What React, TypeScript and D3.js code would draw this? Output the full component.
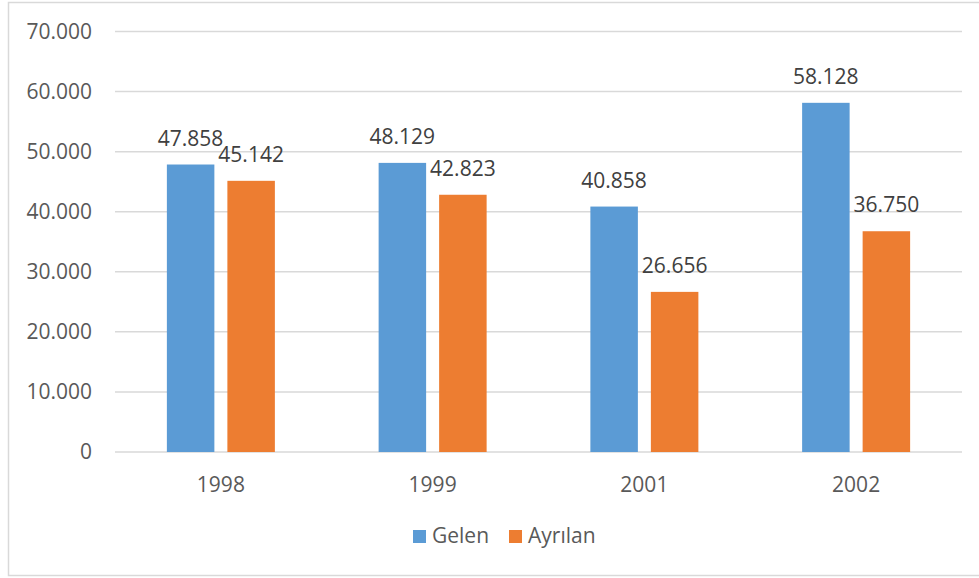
import React, { useEffect, useRef } from "react";
import * as d3 from "d3";

// years and the two series (Gelen = arrivals, Ayrılan = departures)
const years = ["1998", "1999", "2001", "2002"];
const seriesNames = ["Gelen", "Ayrılan"];
const gelen = [47858, 48129, 40858, 58128];
const ayrilan = [45142, 42823, 26656, 36750];
const yTicks = [0, 10000, 20000, 30000, 40000, 50000, 60000, 70000];
const colors = ["#5B9BD5", "#ED7D31"];

const W = 979, H = 578;
const FONT = "'Open Sans', sans-serif";
const TEXT = "#595959";
const FS = 21;

const trLocale = d3.formatLocale({ decimal: ",", thousands: ".", grouping: [3], currency: ["", " TL"] });
const fmt = trLocale.format(",d");

const App: React.FC = () => {
  const ref = useRef<SVGSVGElement | null>(null);

  useEffect(() => {
    const svg = d3.select(ref.current);
    svg.selectAll("*").remove();

    const left = 115, right = 962, top = 31.5, bottom = 452;

    // outer chart border (no right edge visible in the original)
    svg.append("path")
      .attr("d", `M${W},2.5 H8.5 V575.5 H${W}`)
      .attr("fill", "none")
      .attr("stroke", "#D9D9D9")
      .attr("stroke-width", 1.5);

    const x0 = d3.scaleBand().domain(years).range([left, right]).padding(0);
    const bw = x0.bandwidth();
    const groupW = 108;
    const x1 = d3.scaleBand().domain(seriesNames)
      .range([(bw - groupW) / 2, (bw + groupW) / 2])
      .paddingInner(0.215).paddingOuter(0);
    const y = d3.scaleLinear().domain([0, 70000]).range([bottom, top]);

    // gridlines
    svg.append("g").selectAll("line").data(yTicks).join("line")
      .attr("x1", left).attr("x2", right)
      .attr("y1", d => y(d)).attr("y2", d => y(d))
      .attr("stroke", "#D9D9D9").attr("stroke-width", 1.5);

    // y tick labels
    svg.append("g").selectAll("text").data(yTicks).join("text")
      .attr("x", 92).attr("y", d => y(d))
      .attr("dy", "0.35em")
      .attr("text-anchor", "end")
      .attr("font-family", FONT).attr("font-size", FS).attr("fill", TEXT)
      .text(d => fmt(d));

    const values = [gelen, ayrilan];
    const rows = years.flatMap((yr, i) => seriesNames.map((s, k) => ({ yr, s, k, v: values[k][i] })));

    const g = svg.append("g");
    g.selectAll("rect").data(rows).join("rect")
      .attr("x", d => (x0(d.yr) as number) + (x1(d.s) as number))
      .attr("y", d => y(d.v))
      .attr("width", x1.bandwidth())
      .attr("height", d => y(0) - y(d.v))
      .attr("fill", d => colors[d.k]);

    g.selectAll("text").data(rows).join("text")
      .attr("x", d => (x0(d.yr) as number) + (x1(d.s) as number) + x1.bandwidth() / 2)
      .attr("y", d => y(d.v) - 19)
      .attr("text-anchor", "middle")
      .attr("font-family", FONT).attr("font-size", FS).attr("fill", "#404040")
      .text(d => fmt(d.v));

    // x labels
    svg.append("g").selectAll("text").data(years).join("text")
      .attr("x", d => (x0(d) as number) + bw / 2)
      .attr("y", 492)
      .attr("text-anchor", "middle")
      .attr("font-family", FONT).attr("font-size", FS).attr("fill", TEXT)
      .text(d => d);

    // legend
    const legendX = [413, 509];
    const lg = svg.append("g");
    seriesNames.forEach((name, k) => {
      lg.append("rect")
        .attr("x", legendX[k]).attr("y", 530)
        .attr("width", 13).attr("height", 13)
        .attr("fill", colors[k]);
      lg.append("text")
        .attr("x", legendX[k] + 19).attr("y", 543)
        .attr("font-family", FONT).attr("font-size", FS).attr("fill", TEXT)
        .text(name);
    });
  }, []);

  return (
    <svg ref={ref} width={W} height={H}
      style={{ position: "absolute", left: 0, top: 0, background: "#fff" }} />
  );
};

export default App;
